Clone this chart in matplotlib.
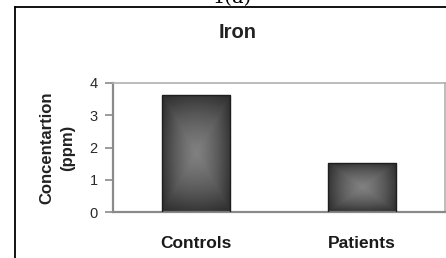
import numpy as np
import matplotlib
matplotlib.use("Agg")
import matplotlib.pyplot as plt
from matplotlib.lines import Line2D
from matplotlib.colors import LinearSegmentedColormap

categories = ["Controls", "Patients"]
values = [3.63, 1.52]
yticks = [0, 1, 2, 3, 4]
title = "Iron"
ylabel = "Concentartion\n(ppm)"
panel = "1(a)"

fig = plt.figure(figsize=(4.46, 2.58), dpi=100)
fig.patch.set_facecolor("white")
ax = fig.add_axes([113/446, 1-212/258, 332/446, 129/258])

x = np.arange(len(categories))
bw = 0.415
bars = ax.bar(x, values, width=bw, color="none", edgecolor="#1e1e1e", linewidth=1.0, zorder=3)

cmap = LinearSegmentedColormap.from_list("g", ["#808080", "#585858", "#2a2a2a"])
n = 200
u = np.linspace(-1, 1, n)
U, V = np.meshgrid(u, u)
D = 0.65 * np.maximum(np.abs(U), np.abs(V)) + 0.35 * np.sqrt((U**2 + V**2) / 2)
D = np.clip(D, 0, 1) ** 1.3
for b in bars:
    x0, y0 = b.get_x(), b.get_y()
    w, h = b.get_width(), b.get_height()
    im = ax.imshow(D, cmap=cmap, extent=[x0, x0 + w, y0, y0 + h], aspect="auto",
                   origin="lower", zorder=2, vmin=0, vmax=1, interpolation="bilinear")
    im.set_clip_path(b)

ax.set_xlim(-0.5, 1.5)
ax.set_ylim(0, 4)
ax.set_yticks(yticks)
ax.set_xticks(x)
ax.set_xticklabels(categories, fontsize=12.5, fontweight="bold", family="Liberation Sans",
                   color="#1a1a1a")
ax.tick_params(axis="x", length=0, pad=17)
ax.tick_params(axis="y", length=6, width=1.2, color="#8a8a8a", pad=5, direction="out")
for lab in ax.get_yticklabels():
    lab.set_fontsize(10.5)
    lab.set_family("Liberation Sans")
    lab.set_color("#2a2a2a")
for s in ["left", "bottom"]:
    ax.spines[s].set_color("#8a8a8a")
    ax.spines[s].set_linewidth(1.6)
for s in ["top", "right"]:
    ax.spines[s].set_color("#b0b0b0")
    ax.spines[s].set_linewidth(1.2)

fig.text(238/446, 1-32/258, title, ha="center", va="center", fontsize=14.5,
         fontweight="bold", family="Liberation Sans", color="#222222")
fig.text(57/446, 1-148/258, ylabel, ha="center", va="center", rotation=90,
         fontsize=12, fontweight="bold", family="Liberation Sans", color="#222222",
         linespacing=1.5, multialignment="center")
fig.text(232/446, 1-3/258, panel, ha="center", va="baseline", fontsize=14,
         family="DejaVu Serif", color="black")

fig.add_artist(Line2D([15/446, 1], [1-7/258, 1-7/258], color="black", lw=1.3, transform=fig.transFigure))
fig.add_artist(Line2D([15/446, 15/446], [0, 1-7/258], color="black", lw=1.3, transform=fig.transFigure))

fig.savefig("out.png", dpi=100, facecolor="white")
